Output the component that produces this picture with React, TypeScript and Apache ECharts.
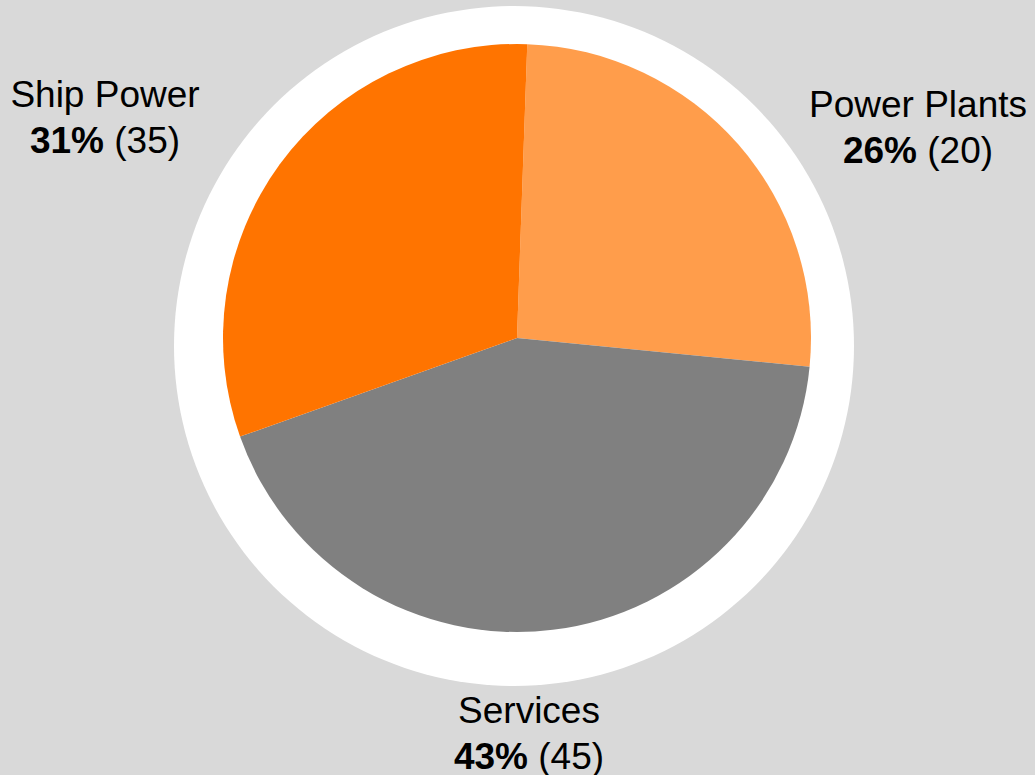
import React, { useEffect, useRef } from "react";
import * as echarts from "echarts";

const categories = ["Power Plants", "Services", "Ship Power"];
const shares = [26, 43, 31];
const counts = [20, 45, 35];
const colors = ["#ff9d4b", "#808080", "#ff7400"];

// label anchor points (px) for each category, in the same order
const labelAnchors = [
  [918, 127],
  [529, 733],
  [105, 117],
];

export default function App() {
  const ref = useRef<HTMLDivElement>(null);
  useEffect(() => {
    if (!ref.current) return;
    const chart = echarts.init(ref.current, undefined, { renderer: "svg" });
    const font = '"Liberation Sans", Arial, Helvetica, sans-serif';
    chart.setOption({
      animation: false,
      backgroundColor: "#d9d9d9",
      graphic: [
        {
          type: "circle",
          z: 0,
          silent: true,
          shape: { cx: 514, cy: 346, r: 340 },
          style: { fill: "#ffffff" },
        },
      ],
      series: [
        {
          type: "pie",
          z: 5,
          center: [517, 338],
          radius: 294,
          startAngle: 88,
          clockwise: true,
          avoidLabelOverlap: false,
          itemStyle: { borderWidth: 0 },
          emphasis: { disabled: true },
          labelLine: { show: false },
          label: {
            show: true,
            position: "outside",
            fontFamily: font,
            formatter: (p: any) =>
              `{n|${categories[p.dataIndex]}}\n{b|${shares[p.dataIndex]}%}{n|\u00a0(${counts[p.dataIndex]})}`,
            rich: {
              n: { fontFamily: font, fontSize: 37, lineHeight: 46, color: "#000000" },
              b: { fontFamily: font, fontSize: 37, lineHeight: 46, color: "#000000", fontWeight: "bold" },
            },
            align: "center",
          },
          labelLayout: (params: any) => {
            const a = labelAnchors[params.dataIndex];
            return { x: a[0], y: a[1], align: "center", verticalAlign: "middle" };
          },
          data: categories.map((c, i) => ({
            name: c,
            value: shares[i],
            itemStyle: { color: colors[i] },
          })),
        },
      ],
    });
    return () => chart.dispose();
  }, []);
  return (
    <div
      ref={ref}
      style={{ position: "fixed", left: 0, top: 0, width: 1035, height: 775 }}
    />
  );
}
